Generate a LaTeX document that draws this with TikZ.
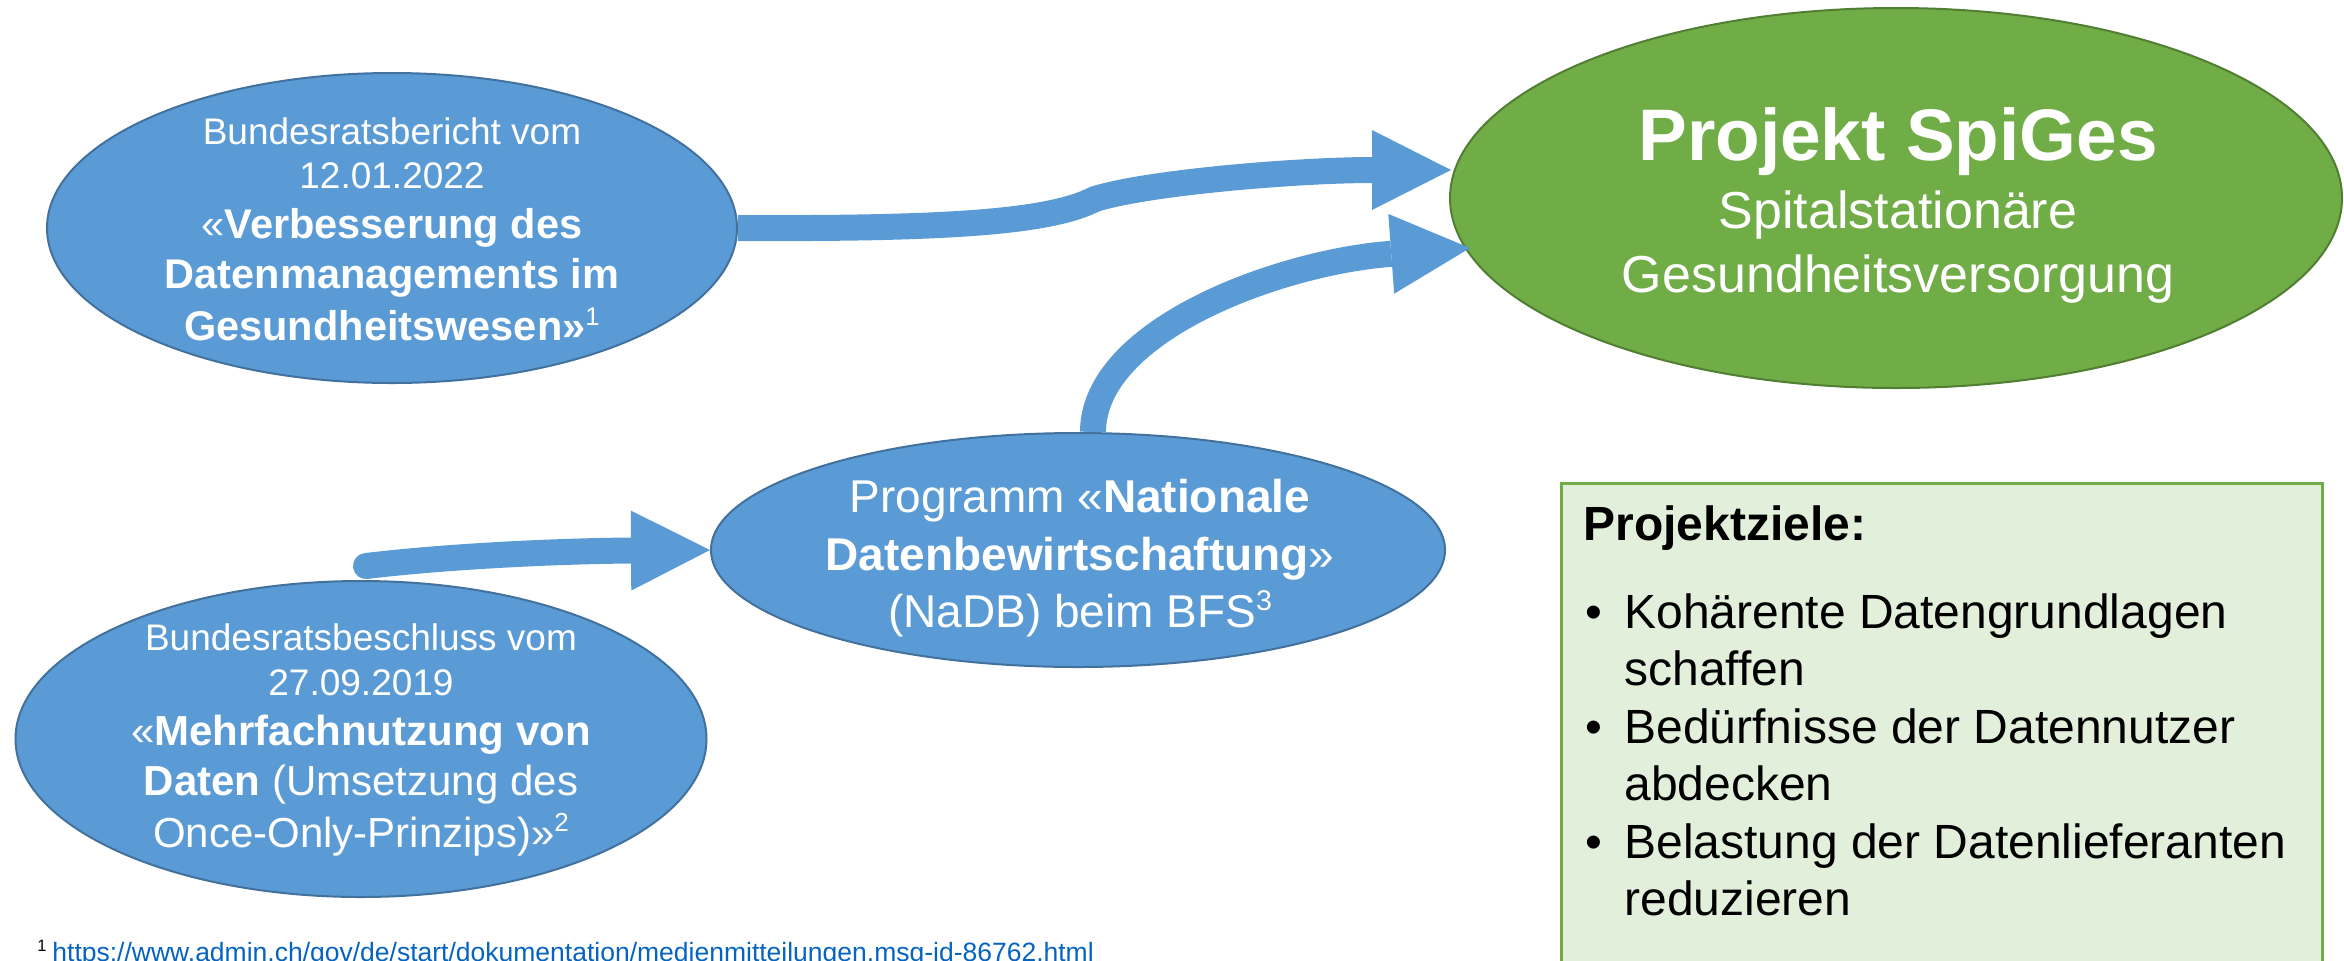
\documentclass[tikz,border=0pt]{standalone}
\usepackage{fontspec}
\setmainfont{Liberation Sans}
\usetikzlibrary{arrows.meta,shapes.geometric}
\definecolor{bluefill}{HTML}{5B9BD5}
\definecolor{blueline}{HTML}{41719C}
\definecolor{greenfill}{HTML}{70AD47}
\definecolor{greenline}{HTML}{507E32}
\definecolor{boxfill}{HTML}{E2EFDA}
\definecolor{boxline}{HTML}{70AD47}
\definecolor{linkblue}{HTML}{0563C1}
\newcommand{\fsz}[1]{\fontsize{#1pt}{#1pt}\selectfont}
\newcommand{\hochz}[1]{\raisebox{0.36em}{\fontsize{0.62em}{0.62em}\selectfont #1}}
\begin{document}
\begin{tikzpicture}[x=0.5pt,y=-0.5pt,
  blueell/.style={ellipse, draw=blueline, line width=1pt, fill=bluefill, inner sep=0pt},
  greenell/.style={ellipse, draw=greenline, line width=1pt, fill=greenfill, inner sep=0pt},
  txt/.style={text=white, inner sep=0pt, anchor=base},
  boxtxt/.style={text=black, inner sep=0pt, anchor=base west},
  fatarrow/.style={draw=bluefill, line width=13pt, -{Triangle[length=39.5pt,width=40pt,line width=0pt]}},
]
\useasboundingbox (0,0) rectangle (2344,960);
\clip (0,0) rectangle (2344,960);

% shapes
\node[blueell, minimum width=345pt, minimum height=155pt] (bericht) at (392,228) {};
\node[blueell, minimum width=345.5pt, minimum height=158pt] (beschluss) at (361,739) {};
\node[blueell, minimum width=367pt, minimum height=117pt] (nadb) at (1078,550) {};
\node[greenell, minimum width=446pt, minimum height=190pt] (spiges) at (1896,198) {};
\node[draw=boxline, line width=1.5pt, fill=boxfill, minimum width=380.5pt, minimum height=267pt, inner sep=0pt] (ziele) at (1941.5,750) {};

% connectors
\coordinate (t1) at (1451,170);
\coordinate (t2) at (1470,248);
\coordinate (s3) at (366,566);
\draw[fatarrow] (bericht.east) .. controls (950,229) and (1050,222) .. (1095,199)
                               .. controls (1150,182) and (1300,170) .. (t1);
\draw[fatarrow] ([xshift=7.5pt]nadb.north) .. controls (1093,330) and (1280,262) .. (t2);
\draw[fatarrow, line cap=round] (s3) .. controls (450,556) and (560,551) .. (nadb.west);

% texts ellipse 1
\node[txt] (b1) at (392,144) {\fsz{18.5}Bundesratsbericht vom};
\node[txt] (b2) at (392,188) {\fsz{18.5}12.01.2022};
\node[txt] (b3) at (392,238) {\fsz{20.75}«\textbf{Verbesserung des}};
\node[txt] (b4) at (392,288) {\fsz{20.75}\textbf{Datenmanagements im}};
\node[txt] (b5) at (392,340) {\fsz{20.75}\textbf{Gesundheitswesen»}\hochz{1}};

% texts ellipse 2
\node[txt] (c1) at (361,650) {\fsz{18.5}Bundesratsbeschluss vom};
\node[txt] (c2) at (361,695) {\fsz{18.5}27.09.2019};
\node[txt] (c3) at (361,745) {\fsz{21}«\textbf{Mehrfachnutzung von}};
\node[txt] (c4) at (361,795) {\fsz{21}\textbf{Daten} (Umsetzung des};
\node[txt] (c5) at (361,847) {\fsz{21}Once-Only-Prinzips)»\hochz{2}};

% texts ellipse 3
\node[txt] (n1) at (1080,512) {\fsz{23}Programm «\textbf{Nationale}};
\node[txt] (n2) at (1080,570) {\fsz{23}\textbf{Datenbewirtschaftung}»};
\node[txt] (n3) at (1080,627) {\fsz{23}(NaDB) beim BFS\hochz{3}};

% texts green ellipse
\node[txt] (g1) at (1898,160) {\fsz{36.5}\textbf{Projekt SpiGes}};
\node[txt] (g2) at (1898,228) {\fsz{26}Spitalstationäre};
\node[txt] (g3) at (1898,292) {\fsz{26}Gesundheitsversorgung};

% box texts
\node[boxtxt] (z0) at (1583,540) {\fsz{24}\textbf{Projektziele:}};
\node[boxtxt] (zb1) at (1585,628) {\fsz{24}•};
\node[boxtxt] (zb2) at (1585,743) {\fsz{24}•};
\node[boxtxt] (zb3) at (1585,858) {\fsz{24}•};
\node[boxtxt] (z1) at (1624,628) {\fsz{24}Kohärente Datengrundlagen};
\node[boxtxt] (z2) at (1624,685) {\fsz{24}schaffen};
\node[boxtxt] (z3) at (1624,743) {\fsz{24}Bedürfnisse der Datennutzer};
\node[boxtxt] (z4) at (1624,800) {\fsz{24}abdecken};
\node[boxtxt] (z5) at (1624,858) {\fsz{24}Belastung der Datenlieferanten};
\node[boxtxt] (z6) at (1624,915) {\fsz{24}reduzieren};

% footnote
\node[boxtxt] (f0) at (37,961) {\fsz{13.25}\hochz{1}};
\node[boxtxt, text=linkblue] (f1) at (52,961) {\fsz{13.25}https://www.admin.ch/gov/de/start/dokumentation/medienmitteilungen.msg-id-86762.html};
\end{tikzpicture}
\end{document}
